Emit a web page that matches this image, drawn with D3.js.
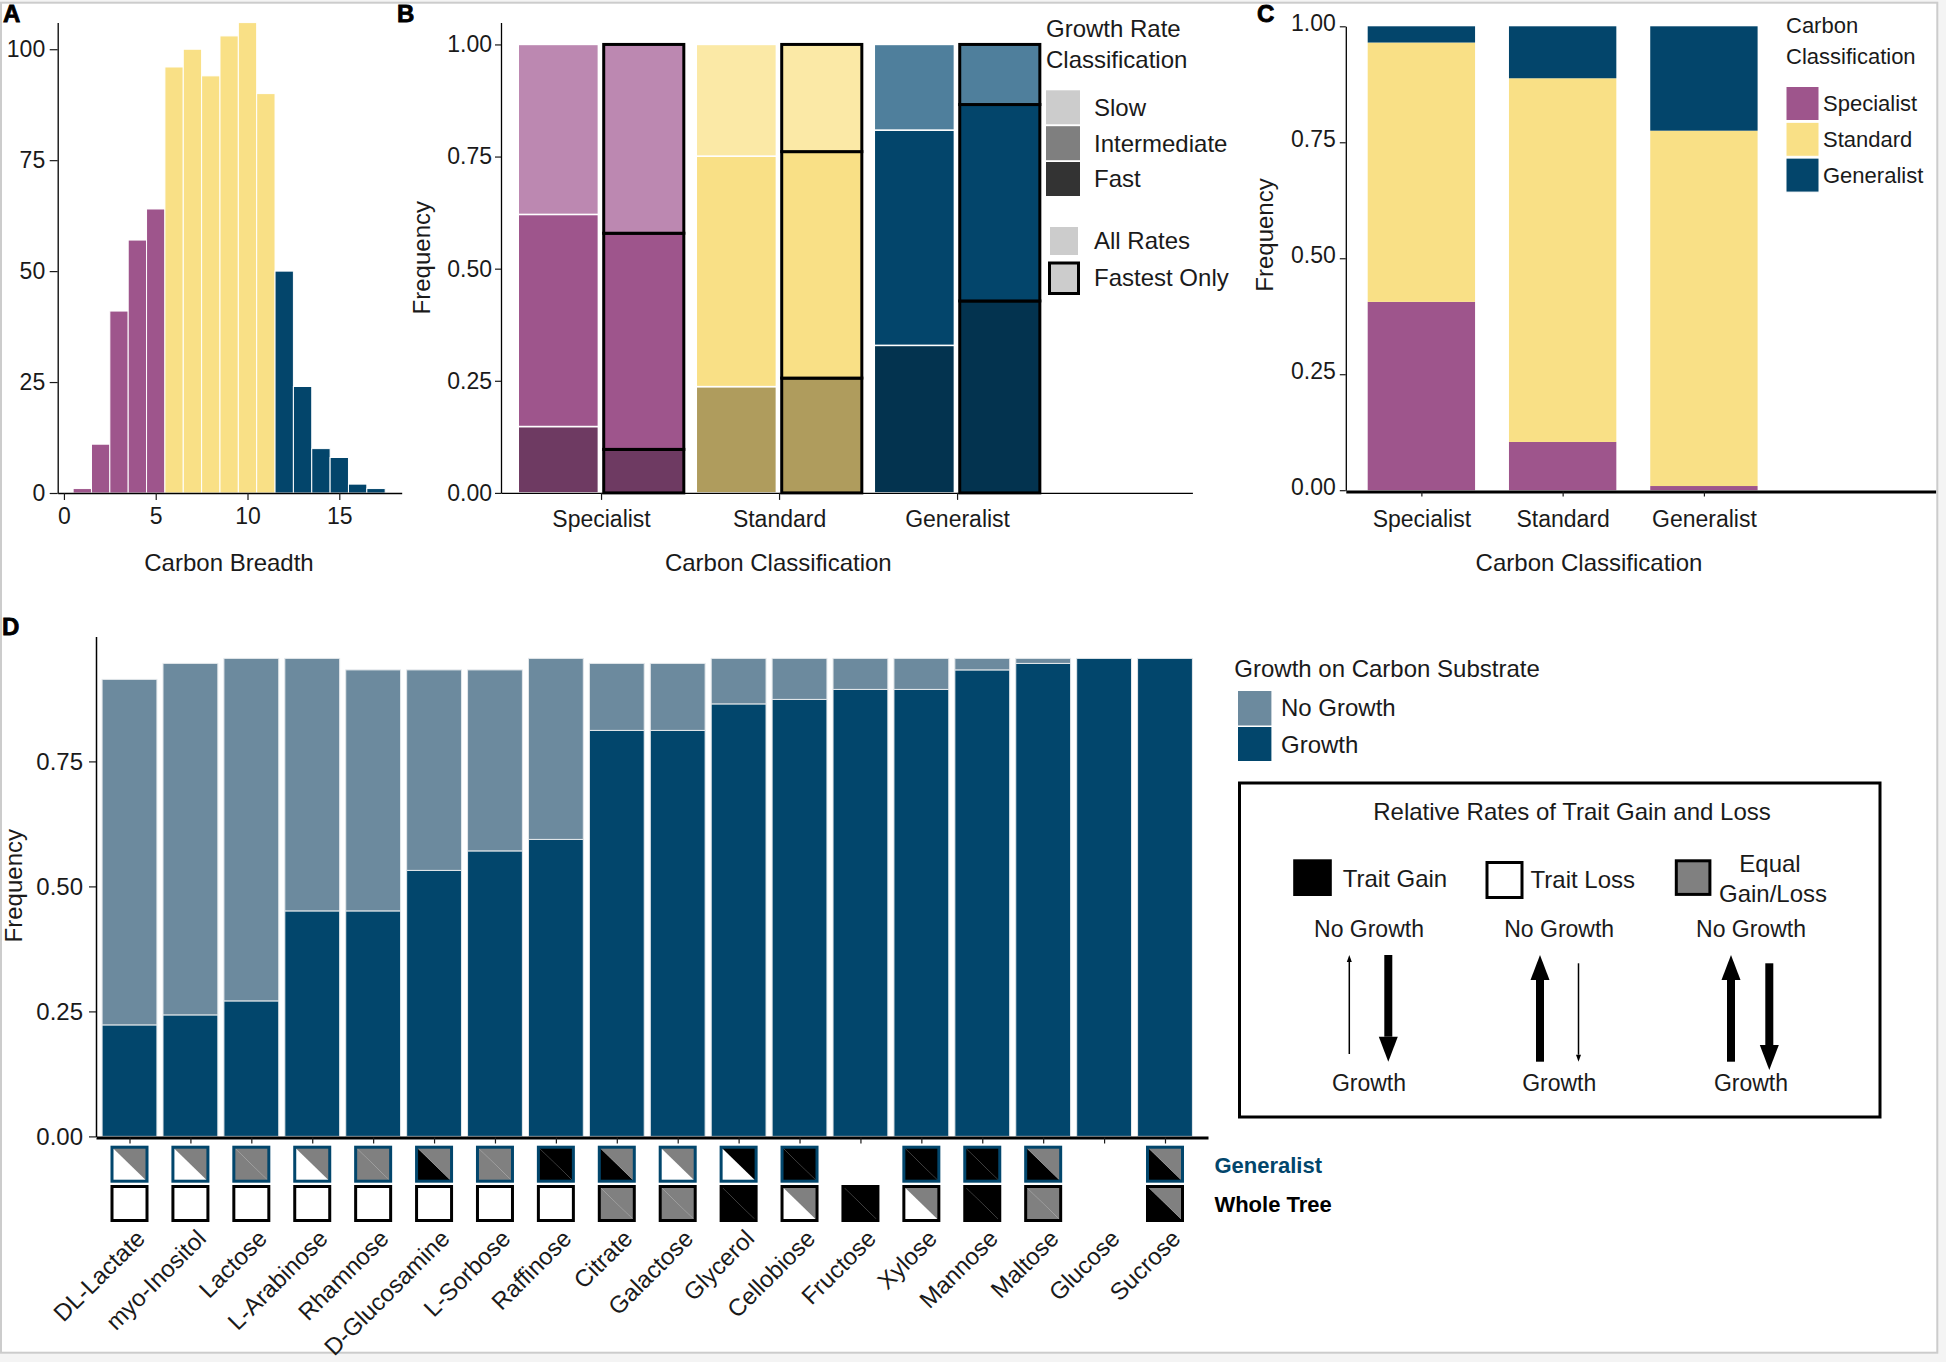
<!DOCTYPE html>
<html><head><meta charset="utf-8">
<script src="https://cdn.jsdelivr.net/npm/d3@7"></script>
<style>
html,body{margin:0;padding:0;background:#f4f4f4;}
svg{display:block;font-family:"Liberation Sans",Arial,Helvetica,sans-serif;}
</style></head><body>
<svg id="fig" width="1946" height="1362"></svg>
<script>
// ---------------- DATA ----------------
// Panel A: histogram of carbon breadth
const breadthBins   = [1,2,3,4,5,6,7,8,9,10,11,12,13,14,15,16,17];
const breadthCounts = [1,11,41,57,64,96,100,94,103,106,90,50,24,10,8,2,1];
const breadthClass  = ["Specialist","Specialist","Specialist","Specialist","Specialist",
  "Standard","Standard","Standard","Standard","Standard","Standard",
  "Generalist","Generalist","Generalist","Generalist","Generalist","Generalist"];

// Panel B: growth rate classification
const carbonClasses = ["Specialist","Standard","Generalist"];
const growthRates = ["Fast","Intermediate","Slow"];
const allRatesFast         = [0.148,0.237,0.329];
const allRatesIntermediate = [0.473,0.514,0.480];
const allRatesSlow         = [0.379,0.249,0.191];
const fastestFast          = [0.097,0.256,0.428];
const fastestIntermediate  = [0.482,0.505,0.438];
const fastestSlow          = [0.421,0.239,0.134];

// Panel C: composition
const compSpecialist = [0.406,0.104,0.009];
const compStandard   = [0.559,0.784,0.766];
const compGeneralist = [0.035,0.112,0.225];

// Panel D: growth on carbon substrates
const substrates = ["DL-Lactate","myo-Inositol","Lactose","L-Arabinose","Rhamnose","D-Glucosamine",
  "L-Sorbose","Raffinose","Citrate","Galactose","Glycerol","Cellobiose","Fructose","Xylose",
  "Mannose","Maltose","Glucose","Sucrose"];
const growthFreq   = [0.223,0.243,0.271,0.451,0.451,0.532,0.571,0.594,0.812,0.812,0.865,0.874,0.894,0.894,0.933,0.946,0.956,0.956];
const noGrowthFreq = [0.691,0.703,0.685,0.505,0.482,0.401,0.362,0.362,0.134,0.134,0.091,0.082,0.062,0.062,0.023,0.010,0,0];
// relative rates: "lowerLeft|upperRight" or single value; null = none
const generalistRates = ["loss|equal","loss|equal","equal","loss|equal","equal","gain|equal","equal","gain",
  "gain|equal","loss|equal","loss|gain","gain",null,"gain","gain","gain|equal",null,"gain|equal"];
const wholeTreeRates = ["loss","loss","loss","loss","loss","loss","loss","loss","equal","equal","gain",
  "loss|equal","gain","loss|equal","gain","equal",null,"gain|equal"];

// ---------------- STYLE ----------------
const classColor = {Specialist:"#9E558C", Standard:"#F9E086", Generalist:"#03456B"};
const rateShade = {
  Specialist:{Slow:"#BC88B1",Intermediate:"#9E558C",Fast:"#6E3A62"},
  Standard:{Slow:"#FBE9A6",Intermediate:"#F9E086",Fast:"#AF9C5D"},
  Generalist:{Slow:"#4F7F9C",Intermediate:"#03456B",Fast:"#03334F"}
};
const rateFill = {gain:"#000000", loss:"#ffffff", equal:"#808080"};
const TXT = "#1a1a1a";

const svg = d3.select("#fig");
svg.append("rect").attr("x",1).attr("y",2.7).attr("width",1936.3).attr("height",1350)
  .attr("fill","#fff").attr("stroke","#cccccc").attr("stroke-width",2);

function styleAxis(g, fs, dw){
  g.attr("font-family",null).attr("font-size",fs).attr("color",TXT);
  g.select(".domain").attr("stroke-width",dw).attr("stroke","#000");
  g.selectAll(".tick line").attr("stroke-width",1.2);
}
function label(x,y,t,fs,opts={}){
  const e = svg.append("text").attr("x",x).attr("y",y).attr("dy","0.35em")
    .attr("font-size",fs).attr("fill",opts.fill||TXT).attr("text-anchor",opts.anchor||"start")
    .attr("font-weight",opts.bold?"bold":null).text(t);
  if(opts.rot) e.attr("transform",`rotate(${opts.rot},${x},${y})`);
  return e;
}
function panelLetter(x,y,t){
  svg.append("text").attr("x",x).attr("y",y).attr("font-size",24).attr("font-weight","bold")
    .attr("fill","#000").attr("stroke","#000").attr("stroke-width",0.8).text(t);
}

// ---------------- PANEL A ----------------
const xA = d3.scaleLinear().domain([-0.34,18.4]).range([57.7,401.7]);
const yA = d3.scaleLinear().domain([0,106]).range([493,22.6]);
svg.append("g").selectAll("rect").data(breadthBins).join("rect")
  .attr("x",d=>xA(d-0.5)).attr("width",d=>xA(d+0.5)-xA(d-0.5))
  .attr("y",(d,i)=>yA(breadthCounts[i])).attr("height",(d,i)=>yA(0)-yA(breadthCounts[i]))
  .attr("fill",(d,i)=>classColor[breadthClass[i]]).attr("stroke","#fff").attr("stroke-width",1);
styleAxis(svg.append("g").attr("transform","translate(57.7,0)")
  .call(d3.axisLeft(yA).tickValues([0,25,50,75,100]).tickSize(8).tickSizeOuter(0).tickPadding(4.5)),23,1.3);
styleAxis(svg.append("g").attr("transform","translate(0,493)")
  .call(d3.axisBottom(xA).tickValues([0,5,10,15]).tickSize(7).tickSizeOuter(0).tickPadding(8)),23,1.3);
label(229,562.5,"Carbon Breadth",24,{anchor:"middle"});
panelLetter(3,22,"A");

// ---------------- PANEL B ----------------
const xB = d3.scaleLinear().domain([0.438,4.322]).range([501,1192.4]);
const yB = d3.scaleLinear().domain([0,1.0487]).range([492.9,22.6]);
const bRows = carbonClasses.map((c,i)=>({cls:c,set:"All Rates",pos:i+1-0.24,
    Fast:allRatesFast[i],Intermediate:allRatesIntermediate[i],Slow:allRatesSlow[i]}))
  .concat(carbonClasses.map((c,i)=>({cls:c,set:"Fastest Only",pos:i+1+0.24,
    Fast:fastestFast[i],Intermediate:fastestIntermediate[i],Slow:fastestSlow[i]})));
const bStack = d3.stack().keys(growthRates)(bRows);
const bSegs = [];
bStack.forEach(s=>s.forEach(p=>bSegs.push({rate:s.key,row:p.data,y0:p[0],y1:p[1]})));
bSegs.sort((a,b)=>(a.row.set==="All Rates"?0:1)-(b.row.set==="All Rates"?0:1));
svg.append("g").selectAll("rect").data(bSegs).join("rect")
  .attr("x",d=>xB(d.row.pos-0.225)).attr("width",d=>xB(d.row.pos+0.225)-xB(d.row.pos-0.225))
  .attr("y",d=>yB(d.y1)).attr("height",d=>yB(d.y0)-yB(d.y1))
  .attr("fill",d=>rateShade[d.row.cls][d.rate])
  .attr("stroke",d=>d.row.set==="All Rates"?"#fff":"#000")
  .attr("stroke-width",d=>d.row.set==="All Rates"?1.5:3);
styleAxis(svg.append("g").attr("transform","translate(501,0)")
  .call(d3.axisLeft(yB).tickValues([0,0.25,0.5,0.75,1]).tickFormat(d3.format(".2f")).tickSize(6).tickSizeOuter(0).tickPadding(3)),23,1.3);
styleAxis(svg.append("g").attr("transform","translate(0,492.9)")
  .call(d3.axisBottom(xB).tickValues([1,2,3]).tickFormat((d)=>carbonClasses[d-1]).tickSize(7).tickSizeOuter(0).tickPadding(11)),23,1.3);
label(778.3,562.5,"Carbon Classification",24,{anchor:"middle"});
label(421.7,257.7,"Frequency",24,{anchor:"middle",rot:-90});
panelLetter(397,22,"B");
// legend B
label(1046,29,"Growth Rate",24);
label(1046,60,"Classification",24);
[["Slow","#CCCCCC",90.3],["Intermediate","#7F7F7F",126.2],["Fast","#333333",162]].forEach(([t,c,y])=>{
  svg.append("rect").attr("x",1046).attr("y",y).attr("width",34).attr("height",34).attr("fill",c);
  label(1094,y+17,t,24);
});
svg.append("rect").attr("x",1050).attr("y",227).attr("width",28).attr("height",28).attr("fill","#CCCCCC");
label(1094,241,"All Rates",24);
svg.append("rect").attr("x",1049.5).attr("y",263).attr("width",29).attr("height",30.5)
  .attr("fill","#CCCCCC").attr("stroke","#000").attr("stroke-width",3);
label(1094,278,"Fastest Only",24);

// ---------------- PANEL C ----------------
const xC = d3.scaleLinear().domain([0.465,4.64]).range([1345.8,1935.6]);
const yC = d3.scaleLinear().domain([0,1]).range([490.2,26.3]);
const cRows = carbonClasses.map((c,i)=>({cls:c,pos:i+1,
  Specialist:compSpecialist[i],Standard:compStandard[i],Generalist:compGeneralist[i]}));
const cStack = d3.stack().keys(carbonClasses)(cRows);
svg.append("g").selectAll("g").data(cStack).join("g").attr("fill",s=>classColor[s.key])
  .selectAll("rect").data(s=>s).join("rect")
  .attr("x",p=>xC(p.data.pos-0.38)).attr("width",p=>xC(p.data.pos+0.38)-xC(p.data.pos-0.38))
  .attr("y",p=>yC(p[1])).attr("height",p=>yC(p[0])-yC(p[1]));
const cAxisY = svg.append("g").attr("transform","translate(1345.8,0)")
  .call(d3.axisLeft(yC).tickValues([0,0.25,0.5,0.75,1]).tickFormat(d3.format(".2f")).tickSize(6).tickSizeOuter(0).tickPadding(4));
styleAxis(cAxisY,23,1.3);
cAxisY.selectAll(".tick text").attr("dy","0.2em");
styleAxis(svg.append("g").attr("transform","translate(0,491.5)")
  .call(d3.axisBottom(xC).tickValues([1,2,3]).tickFormat((d)=>carbonClasses[d-1]).tickSize(5).tickSizeOuter(0).tickPadding(14)),23,3);
label(1589,562.5,"Carbon Classification",24,{anchor:"middle"});
label(1264.8,235,"Frequency",24,{anchor:"middle",rot:-90});
panelLetter(1257,22,"C");
label(1786,25,"Carbon",22);
label(1786,56,"Classification",22);
carbonClasses.forEach((c,i)=>{
  svg.append("rect").attr("x",1786).attr("y",86.5+i*35.8).attr("width",33).attr("height",34)
    .attr("fill",classColor[c]).attr("stroke","#fff").attr("stroke-width",1);
  label(1823,103.5+i*35.8,c,22);
});

// ---------------- PANEL D ----------------
const xD = d3.scaleLinear().domain([-0.55,17.706]).range([96,1208]);
const yD = d3.scaleLinear().domain([0,1]).range([1136.4,636.4]);
const dRows = substrates.map((s,i)=>({name:s,idx:i,Growth:growthFreq[i],"No Growth":noGrowthFreq[i]}));
const dStack = d3.stack().keys(["Growth","No Growth"])(dRows);
const dColor = {"Growth":"#02466C","No Growth":"#6C8A9E"};
svg.append("g").selectAll("g").data(dStack).join("g").attr("fill",s=>dColor[s.key])
  .selectAll("rect").data(s=>s.filter(p=>p[1]>p[0])).join("rect")
  .attr("x",p=>xD(p.data.idx-0.45)).attr("width",p=>xD(p.data.idx+0.45)-xD(p.data.idx-0.45))
  .attr("y",p=>yD(p[1])).attr("height",p=>yD(p[0])-yD(p[1]))
  .attr("stroke","#e4e8eb").attr("stroke-width",1);
styleAxis(svg.append("g").attr("transform","translate(96,0)")
  .call(d3.axisLeft(yD).tickValues([0,0.25,0.5,0.75]).tickFormat(d3.format(".2f")).tickSize(7).tickSizeOuter(0).tickPadding(6)),24,1.5);
styleAxis(svg.append("g").attr("transform","translate(0,1137.5)")
  .call(d3.axisBottom(xD).tickValues(d3.range(substrates.length)).tickFormat("").tickSize(6).tickSizeOuter(0)),24,3);
label(13.4,885.7,"Frequency",24,{anchor:"middle",rot:-90});
panelLetter(2,635,"D");
// substrate labels
svg.append("g").selectAll("text").data(substrates).join("text")
  .attr("transform",(d,i)=>`translate(${xD(i)+5},1228) rotate(-45)`)
  .attr("dy","0.71em").attr("text-anchor","end").attr("font-size",24).attr("fill",TXT).text(d=>d);

// rate tiles
function drawTiles(rates, yTop, stroke){
  const g = svg.append("g");
  rates.forEach((r,i)=>{
    if(!r) return;
    const parts = r.split("|");
    const ll = rateFill[parts[0]], ur = rateFill[parts[1]||parts[0]];
    const cx = xD(i), x0 = cx-17.5, x1 = cx+17.5, y0 = yTop, y1 = yTop+34;
    g.append("path").attr("d",`M${x0},${y0}L${x0},${y1}L${x1},${y1}Z`).attr("fill",ll);
    g.append("path").attr("d",`M${x0},${y0}L${x1},${y0}L${x1},${y1}Z`).attr("fill",ur);
    g.append("rect").attr("x",x0).attr("y",y0).attr("width",35).attr("height",34)
      .attr("fill","none").attr("stroke",stroke).attr("stroke-width",3);
  });
}
drawTiles(generalistRates,1147.2,"#02466C");
drawTiles(wholeTreeRates,1186.5,"#000");
label(1214.4,1165,"Generalist",22,{bold:true,fill:"#02466C"});
label(1214.4,1204.5,"Whole Tree",22,{bold:true,fill:"#000"});

// legend D
label(1234.3,668.3,"Growth on Carbon Substrate",24);
svg.append("rect").attr("x",1238).attr("y",691).attr("width",33.4).attr("height",34.5).attr("fill",dColor["No Growth"]);
svg.append("rect").attr("x",1238).attr("y",727).attr("width",33.4).attr("height",34).attr("fill",dColor["Growth"]);
label(1281,707.5,"No Growth",24);
label(1281,745,"Growth",24);

svg.append("rect").attr("x",1239.5).attr("y",783).attr("width",640.5).attr("height",334)
  .attr("fill","none").attr("stroke","#000").attr("stroke-width",3);
label(1572,812,"Relative Rates of Trait Gain and Loss",24,{anchor:"middle"});
svg.append("rect").attr("x",1293.2).attr("y",859.3).attr("width",38.6).attr("height",36.7).attr("fill","#000");
label(1342.7,878.3,"Trait Gain",24);
svg.append("rect").attr("x",1487).attr("y",862.5).attr("width",35).attr("height",35)
  .attr("fill","#fff").attr("stroke","#000").attr("stroke-width",3);
label(1530.6,880,"Trait Loss",24);
svg.append("rect").attr("x",1676.3).attr("y",860.8).attr("width",33.6).attr("height",33.6)
  .attr("fill","#808080").attr("stroke","#000").attr("stroke-width",3);
label(1770,863.3,"Equal",24,{anchor:"middle"});
label(1773,893.3,"Gain/Loss",24,{anchor:"middle"});
[1369,1559.2,1751].forEach(x=>{
  label(x,929.3,"No Growth",23,{anchor:"middle"});
  label(x,1083.3,"Growth",23,{anchor:"middle"});
});
function arrow(x,yTail,yTip,thick){
  const dir = yTip>yTail?1:-1;
  const hl = thick?25:7, hw = thick?19:5, sw = thick?8:1.5;
  const yb = yTip-dir*hl;
  svg.append("rect").attr("x",x-sw/2).attr("y",Math.min(yTail,yb)).attr("width",sw)
    .attr("height",Math.abs(yb-yTail)).attr("fill","#000");
  svg.append("path").attr("d",`M${x-hw/2},${yb}L${x+hw/2},${yb}L${x},${yTip}Z`).attr("fill","#000");
}
arrow(1349.3,1054,955,false);
arrow(1388.3,955,1061.7,true);
arrow(1540,1061.7,955,true);
arrow(1578.5,963.3,1061.7,false);
arrow(1731,1061.7,955,true);
arrow(1769.3,963.3,1070,true);
</script>
</body></html>
